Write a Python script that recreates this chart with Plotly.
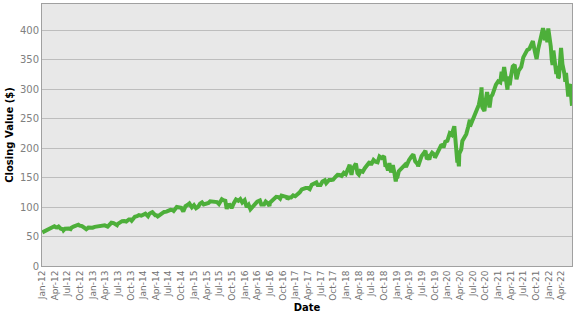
import plotly.graph_objects as go
import pandas as pd

dates = [
 "2012-01-03","2012-01-17","2012-01-31","2012-02-14","2012-02-29","2012-03-15","2012-03-30","2012-04-10","2012-04-20","2012-04-30",
 "2012-05-15","2012-05-31","2012-06-04","2012-06-15","2012-06-29","2012-07-13","2012-07-25","2012-07-31","2012-08-15","2012-08-31",
 "2012-09-14","2012-09-19","2012-09-28","2012-10-15","2012-10-31","2012-11-15","2012-11-30","2012-12-14","2012-12-31",
 "2013-01-15","2013-01-31","2013-02-15","2013-02-28","2013-03-15","2013-03-28","2013-04-18","2013-04-30","2013-05-15","2013-05-31",
 "2013-06-24","2013-06-28","2013-07-15","2013-07-31","2013-08-15","2013-08-30","2013-09-18","2013-09-30","2013-10-08","2013-10-31",
 "2013-11-15","2013-11-29","2013-12-16","2013-12-31",
 "2014-01-15","2014-02-03","2014-02-14","2014-02-28","2014-03-06","2014-03-27","2014-04-04","2014-04-14","2014-04-30","2014-05-15",
 "2014-05-30","2014-06-16","2014-06-30","2014-07-15","2014-07-31","2014-08-07","2014-08-29","2014-09-15","2014-09-30","2014-10-15",
 "2014-10-31","2014-11-14","2014-11-28","2014-12-16","2014-12-31",
 "2015-01-15","2015-01-30","2015-02-13","2015-02-27","2015-03-11","2015-03-31","2015-04-15","2015-04-27","2015-05-15","2015-05-29",
 "2015-06-15","2015-06-29","2015-07-20","2015-07-31","2015-08-14","2015-08-24","2015-08-31","2015-09-15","2015-09-28","2015-10-15",
 "2015-10-30","2015-11-16","2015-11-30","2015-12-14","2015-12-31",
 "2016-01-15","2016-01-29","2016-02-11","2016-02-29","2016-03-15","2016-03-31","2016-04-19","2016-04-29","2016-05-19","2016-05-31",
 "2016-06-15","2016-06-27","2016-06-30","2016-07-15","2016-07-29","2016-08-15","2016-08-31","2016-09-12","2016-09-22","2016-10-14",
 "2016-10-31","2016-11-04","2016-11-15","2016-11-30","2016-12-15","2016-12-30",
 "2017-01-17","2017-01-31","2017-02-15","2017-02-28","2017-03-15","2017-03-31","2017-04-13","2017-04-28","2017-05-15","2017-05-31",
 "2017-06-09","2017-06-15","2017-06-30","2017-07-14","2017-07-31","2017-08-10","2017-08-31","2017-09-15","2017-09-29","2017-10-13",
 "2017-10-31","2017-11-15","2017-11-29","2017-12-15","2017-12-29",
 "2018-01-12","2018-01-26","2018-02-08","2018-02-15","2018-02-26","2018-03-12","2018-03-23","2018-04-02","2018-04-13","2018-04-30",
 "2018-05-15","2018-05-31","2018-06-20","2018-06-29","2018-07-17","2018-07-31","2018-08-15","2018-08-29","2018-09-14","2018-10-01",
 "2018-10-11","2018-10-17","2018-10-29","2018-11-08","2018-11-20","2018-11-30","2018-12-03","2018-12-14","2018-12-24","2018-12-31",
 "2019-01-03","2019-01-15","2019-01-31","2019-02-15","2019-02-28","2019-03-08","2019-03-21","2019-03-29","2019-04-15","2019-04-30",
 "2019-05-13","2019-05-31","2019-06-03","2019-06-20","2019-06-28","2019-07-15","2019-07-26","2019-08-05","2019-08-15","2019-08-23",
 "2019-08-30","2019-09-12","2019-09-30","2019-10-02","2019-10-15","2019-10-31","2019-11-15","2019-11-29","2019-12-03","2019-12-16",
 "2019-12-31",
 "2020-01-17","2020-01-31","2020-02-19","2020-02-28","2020-03-09","2020-03-12","2020-03-13","2020-03-16","2020-03-20","2020-03-23",
 "2020-03-26","2020-04-09","2020-04-17","2020-04-30","2020-05-15","2020-05-29","2020-06-10","2020-06-11","2020-06-30","2020-07-13",
 "2020-07-31","2020-08-14","2020-08-31","2020-09-02","2020-09-08","2020-09-23","2020-09-30","2020-10-12","2020-10-30","2020-11-09",
 "2020-11-20","2020-11-30","2020-12-15","2020-12-31",
 "2021-01-15","2021-01-25","2021-01-29","2021-02-12","2021-02-25","2021-03-08","2021-03-15","2021-03-24","2021-03-31","2021-04-15",
 "2021-04-29","2021-05-12","2021-05-28","2021-06-15","2021-06-30","2021-07-15","2021-07-29","2021-08-13","2021-08-31","2021-09-07",
 "2021-09-20","2021-09-30","2021-10-04","2021-10-15","2021-10-29","2021-11-19","2021-11-30","2021-12-01","2021-12-10","2021-12-20",
 "2021-12-27","2021-12-31",
 "2022-01-04","2022-01-10","2022-01-14","2022-01-21","2022-01-27","2022-02-02","2022-02-10","2022-02-23","2022-03-01","2022-03-08",
 "2022-03-14","2022-03-29","2022-04-08","2022-04-22","2022-04-29","2022-05-04","2022-05-11","2022-05-20","2022-05-27","2022-06-02",
 "2022-06-10","2022-06-13","2022-06-15","2022-06-16",
]

closes = [
 57.1,58.9,60.0,62.6,63.8,66.6,67.5,65.8,65.4,67.0,
 63.5,62.4,60.5,63.3,64.0,63.6,62.6,65.0,67.0,68.2,
 69.6,70.1,68.6,67.8,65.0,62.4,65.2,64.6,65.1,
 66.5,67.3,67.7,67.9,68.6,69.0,67.0,70.3,73.5,72.8,
 69.3,71.3,74.7,76.2,76.3,75.5,79.0,78.9,77.0,83.7,
 84.6,86.4,85.4,88.0,
 89.0,84.5,89.0,90.9,91.5,86.3,86.3,84.3,87.0,87.5,
 91.8,92.3,93.9,95.3,94.9,93.6,100.2,99.6,98.8,92.5,
 101.5,103.5,106.1,99.7,103.3,
 98.2,100.5,105.8,108.1,104.5,105.6,107.1,110.0,109.4,110.3,
 108.5,105.3,113.4,111.9,110.9,96.8,103.4,103.7,98.3,107.0,
 113.0,110.8,113.7,108.0,111.9,
 100.1,104.0,96.3,101.0,105.3,109.2,111.2,104.4,104.5,109.5,
 106.5,102.1,107.5,111.5,114.8,117.5,117.1,114.5,119.5,117.9,
 117.1,113.5,116.3,116.4,120.0,118.5,
 122.0,125.1,130.2,131.6,132.5,132.4,130.6,138.1,141.0,142.0,
 137.5,138.0,137.6,143.6,145.6,140.6,146.1,146.2,146.6,150.6,
 154.9,154.7,153.0,158.4,156.1,
 163.7,172.0,154.9,164.0,168.4,174.0,157.8,155.3,161.5,160.1,
 166.1,170.4,177.0,171.7,180.0,177.1,176.2,186.1,183.4,186.6,
 168.7,172.0,162.4,174.6,159.2,166.0,171.4,158.5,143.5,154.3,
 149.0,161.0,164.7,170.3,171.8,168.0,178.6,179.7,185.5,189.5,
 178.0,172.9,169.2,186.1,186.7,192.1,195.8,181.3,184.5,180.9,
 187.5,192.3,188.8,183.8,191.0,199.2,204.5,205.8,201.0,211.0,
 212.6,
 225.3,222.8,237.4,205.0,188.0,175.6,191.5,169.3,170.7,169.3,
 191.0,198.0,212.4,216.5,224.0,236.0,248.6,236.8,247.6,255.0,
 268.6,274.0,294.9,303.5,269.4,263.3,277.8,295.5,269.4,287.0,
 291.0,299.9,308.0,313.7,
 311.9,330.0,314.0,338.0,311.0,299.5,322.0,307.0,319.1,338.9,
 342.0,317.2,332.0,338.0,354.4,362.0,367.0,369.0,379.6,382.0,
 366.0,357.8,351.7,368.0,386.1,404.0,393.6,383.0,399.0,380.0,
 403.4,398.0,
 388.0,375.0,373.0,350.5,341.4,366.0,352.0,326.3,340.0,319.0,
 321.0,370.3,343.0,327.0,313.0,328.0,297.9,288.0,305.5,309.0,
 288.0,274.0,282.0,272.0,
]

tick_vals = pd.date_range("2012-01-01", "2022-04-01", freq="QS")
tick_text = [d.strftime("%b-%y") for d in tick_vals]

fig = go.Figure()
fig.add_trace(go.Scatter(
    x=pd.to_datetime(dates), y=closes, mode="lines",
    line=dict(color="#4DAF3A", width=4), showlegend=False,
))

fig.update_layout(
    width=577, height=315,
    margin=dict(l=42, r=5, t=3, b=47),
    paper_bgcolor="white", plot_bgcolor="#E8E8E8",
    font=dict(family="DejaVu Sans", size=10, color="#808080"),
)
fig.update_xaxes(
    range=[pd.Timestamp("2012-01-01"), pd.Timestamp(dates[-1])],
    tickvals=tick_vals, ticktext=tick_text, tickangle=-90,
    tickfont=dict(size=9, color="#707070"),
    showgrid=False, showline=True, linecolor="#A0A0A0", linewidth=1, mirror=True,
    ticks="", title=dict(text="<b>Date</b>", font=dict(size=10, color="black"), standoff=4),
)
fig.update_yaxes(
    range=[0, 445], tickvals=[0, 50, 100, 150, 200, 250, 300, 350, 400],
    tickfont=dict(size=10, color="#808080"),
    showgrid=True, gridcolor="#BDBDBD", gridwidth=1, zeroline=False,
    showline=True, linecolor="#A0A0A0", linewidth=1, mirror=True,
    ticks="", title=dict(text="<b>Closing Value ($)</b>", font=dict(size=10, color="black"), standoff=4),
)

fig.write_html("out.html")
